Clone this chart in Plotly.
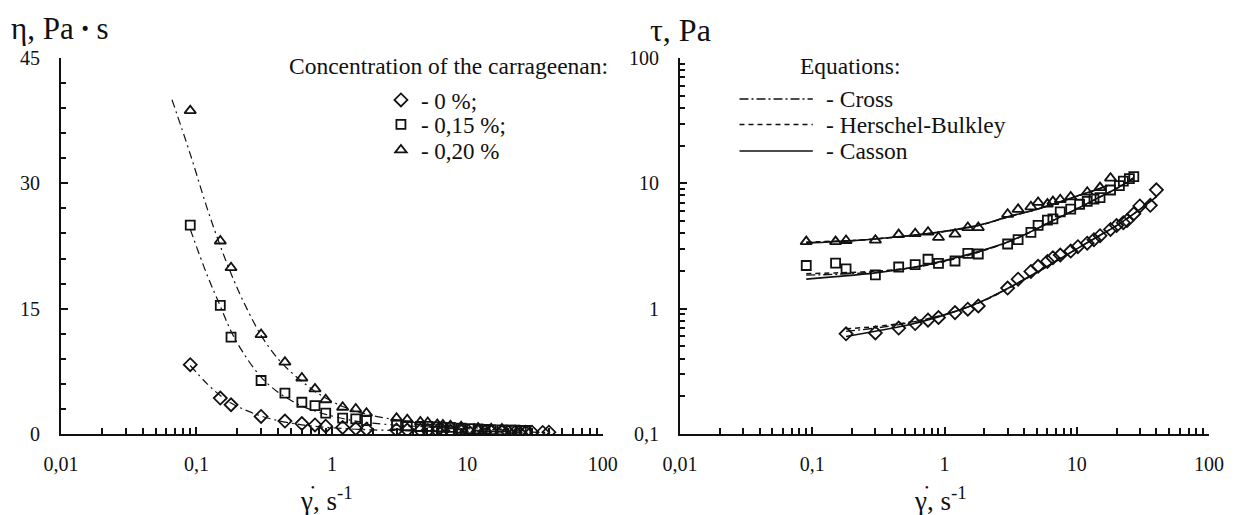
import plotly.graph_objects as go

# ---------------- data ----------------
# Left panel: viscosity eta (Pa*s) vs shear rate (1/s)
rate_0_left = [0.09, 0.15, 0.18, 0.3, 0.45, 0.6, 0.75, 0.9, 1.2, 1.5, 1.8, 3, 3.6, 4.5, 5.1, 6, 6.6,
               7.5, 9, 10.2, 12, 13.5, 15, 18, 20, 22.5, 24, 27, 30, 36, 40]
eta_0 = [8.3, 4.3, 3.5, 2.1, 1.55, 1.25, 1.08, 0.94, 0.78, 0.66, 0.58, 0.49, 0.48, 0.44, 0.43, 0.4, 0.39,
         0.36, 0.32, 0.31, 0.28, 0.26, 0.25, 0.24, 0.23, 0.22, 0.21, 0.21, 0.22, 0.19, 0.22]

rate_15 = [0.09, 0.15, 0.18, 0.3, 0.45, 0.6, 0.75, 0.9, 1.2, 1.5, 1.8, 3, 3.6, 4.5, 5.1, 6, 6.6,
           7.5, 9, 10.5, 12, 13.5, 15, 18, 21, 22.5, 25, 27]
eta_15 = [25.0, 15.4, 11.6, 6.4, 4.9, 3.8, 3.4, 2.5, 1.9, 1.8, 1.6, 1.09, 0.99, 0.9, 0.91, 0.85, 0.79,
          0.79, 0.69, 0.65, 0.6, 0.56, 0.51, 0.49, 0.46, 0.46, 0.44, 0.42]

rate_20 = [0.09, 0.15, 0.18, 0.3, 0.45, 0.6, 0.75, 0.9, 1.2, 1.5, 1.8, 3, 3.6, 4.5, 5.1, 6, 6.6,
           7.5, 9, 12, 15, 18]
eta_20 = [38.7, 23.1, 19.9, 11.9, 8.6, 6.7, 5.4, 4.1, 3.2, 3.0, 2.5, 1.9, 1.72, 1.44, 1.38, 1.14, 1.08,
          0.99, 0.87, 0.71, 0.62, 0.61]

# Cross-model curves in the left panel
cross_rate_20 = [0.066, 0.09, 0.12, 0.15, 0.18, 0.22, 0.3, 0.4, 0.5, 0.6, 0.75, 0.9, 1.2, 1.5, 2, 3, 5, 8, 12, 18]
cross_eta_20 = [40, 33.5, 27, 22.5, 19.2, 16, 11.8, 9.0, 7.4, 6.3, 5.1, 4.3, 3.3, 2.75, 2.2, 1.7, 1.2, 0.9, 0.72, 0.58]
cross_rate_15 = [0.09, 0.12, 0.15, 0.18, 0.22, 0.3, 0.4, 0.5, 0.6, 0.75, 0.9, 1.2, 1.5, 2, 3, 5, 8, 12, 18, 27]
cross_eta_15 = [24.5, 19, 15.3, 12.3, 9.8, 6.8, 5.0, 4.0, 3.35, 2.75, 2.35, 1.85, 1.55, 1.3, 1.05, 0.85, 0.7, 0.58, 0.5, 0.42]
cross_rate_0 = [0.09, 0.12, 0.15, 0.18, 0.22, 0.3, 0.4, 0.5, 0.6, 0.75, 0.9, 1.2, 1.5, 2, 3, 5, 10, 20, 40]
cross_eta_0 = [8.2, 6.0, 4.6, 3.7, 3.0, 2.15, 1.6, 1.3, 1.1, 0.92, 0.8, 0.66, 0.57, 0.49, 0.42, 0.36, 0.3, 0.24, 0.2]

# Right panel: shear stress tau (Pa) vs shear rate (1/s)
rate_0_right = [0.18, 0.3, 0.45, 0.6, 0.75, 0.9, 1.2, 1.5, 1.8, 3, 3.6, 4.5, 5.1, 6, 6.6,
                7.5, 9, 10.2, 12, 13.5, 15, 18, 20, 22.5, 24, 27, 30, 36, 40]
tau_0 = [0.63, 0.64, 0.70, 0.76, 0.81, 0.85, 0.93, 0.99, 1.05, 1.46, 1.72, 1.98, 2.18, 2.38, 2.55,
         2.68, 2.88, 3.12, 3.33, 3.55, 3.82, 4.29, 4.6, 4.85, 5.05, 5.72, 6.6, 6.68, 8.87]
tau_15 = [2.21, 2.31, 2.08, 1.86, 2.15, 2.25, 2.48, 2.3, 2.4, 2.76, 2.73, 3.28, 3.55, 4.06, 4.62, 5.08, 5.2,
          5.93, 6.22, 6.81, 7.18, 7.5, 7.69, 8.85, 9.6, 10.4, 10.9, 11.3]
tau_20 = [3.43, 3.43, 3.5, 3.52, 3.9, 3.97, 4.08, 3.7, 3.93, 4.44, 4.44, 5.66, 6.2, 6.5, 7.05, 6.83, 7.15,
          7.4, 7.8, 8.5, 9.25, 11.0]

# Model fits in the right panel
fit_rate_20 = [0.09, 0.2, 0.3, 0.5, 1, 1.5, 2, 3, 5, 7, 10, 15, 17]
casson_20 = [3.33, 3.48, 3.6, 3.8, 4.15, 4.45, 4.75, 5.4, 6.2, 6.95, 7.9, 9.1, 9.6]
hb_20 = [3.4, 3.5, 3.6, 3.78, 4.12, 4.43, 4.73, 5.38, 6.2, 6.95, 7.9, 9.1, 9.6]
cross_20 = [3.37, 3.49, 3.6, 3.79, 4.13, 4.44, 4.74, 5.39, 6.2, 6.95, 7.9, 9.1, 9.6]

fit_rate_15 = [0.09, 0.15, 0.3, 0.6, 1, 1.5, 2, 3, 4.5, 6.6, 10, 15, 20, 27]
casson_15 = [1.72, 1.8, 1.93, 2.15, 2.42, 2.7, 2.95, 3.4, 4.12, 5.05, 6.25, 7.8, 9.1, 11.0]
hb_15 = [1.9, 1.93, 1.99, 2.14, 2.38, 2.66, 2.92, 3.38, 4.1, 5.05, 6.25, 7.8, 9.1, 11.1]
cross_15 = [1.85, 1.88, 1.96, 2.14, 2.4, 2.68, 2.93, 3.39, 4.11, 5.05, 6.25, 7.8, 9.1, 11.05]

fit_rate_0 = [0.18, 0.3, 0.5, 0.9, 1.5, 2, 3, 5, 7, 10, 15, 20, 30, 40]
casson_0 = [0.6, 0.66, 0.73, 0.86, 1.03, 1.17, 1.45, 1.95, 2.4, 3.0, 3.85, 4.6, 6.2, 7.8]
hb_0 = [0.69, 0.72, 0.77, 0.87, 1.03, 1.16, 1.44, 1.95, 2.4, 3.0, 3.85, 4.6, 6.2, 7.9]
cross_0 = [0.66, 0.7, 0.76, 0.87, 1.03, 1.17, 1.45, 1.95, 2.4, 3.0, 3.85, 4.6, 6.2, 7.85]

x_tickvals = [0.01, 0.1, 1, 10, 100]
x_ticktext = ["0,01", "0,1", "1", "10", "100"]
y2_tickvals = [0.1, 1, 10, 100]
y2_ticktext = ["0,1", "1", "10", "100"]
series_names = ["- 0 %;", "- 0,15 %;", "- 0,20 %"]
eq_names = ["- Cross", "- Herschel-Bulkley", "- Casson"]

# ---------------- styling ----------------
FONT = '"Liberation Serif", "Times New Roman", Times, "DejaVu Serif", serif'
BLACK = "#111111"
OFF = 8  # page body margin in the browser
W, H = 1236 - OFF, 515 - OFF
L, R, T, B = 58 - OFF, 19, 58 - OFF, 81
PW, PH = W - L - R, H - T - B


def px(xp):
    return (xp - OFF - L) / PW


def py(yp):
    return (T + PH - (yp - OFF)) / PH


DASHDOT_L = "8px,4px,2px,4px"
DASHDOT_R = "9px,3px,2px,3px"
HB_DASH = "5px,4px"

fig = go.Figure()

# left fitted curves
for xs, ys in [(cross_rate_20, cross_eta_20), (cross_rate_15, cross_eta_15), (cross_rate_0, cross_eta_0)]:
    fig.add_trace(go.Scatter(x=xs, y=ys, mode="lines", line=dict(color=BLACK, width=1.2, dash=DASHDOT_L, shape="spline"),
                             showlegend=False, hoverinfo="skip", xaxis="x", yaxis="y"))

marker_specs = [("diamond-open", 10), ("square-open", 9), ("triangle-up-open", 10)]
legend_ids = ["legend", "legend2", "legend3"]
left_sets = [(rate_0_left, eta_0), (rate_15, eta_15), (rate_20, eta_20)]
for i, (xs, ys) in enumerate(left_sets):
    sym, sz = marker_specs[i]
    fig.add_trace(go.Scatter(x=xs, y=ys, mode="markers", name=series_names[i], legend=legend_ids[i],
                             marker=dict(symbol=sym, size=sz, color=BLACK, line=dict(color=BLACK, width=1.8)),
                             showlegend=True, xaxis="x", yaxis="y"))

# right fitted curves
for xs, cs, hs, crs in [(fit_rate_20, casson_20, hb_20, cross_20),
                        (fit_rate_15, casson_15, hb_15, cross_15),
                        (fit_rate_0, casson_0, hb_0, cross_0)]:
    fig.add_trace(go.Scatter(x=xs, y=crs, mode="lines", line=dict(color=BLACK, width=1.3, dash=DASHDOT_R, shape="spline"),
                             showlegend=False, hoverinfo="skip", xaxis="x2", yaxis="y2"))
    fig.add_trace(go.Scatter(x=xs, y=hs, mode="lines", line=dict(color=BLACK, width=1.5, dash=HB_DASH, shape="spline"),
                             showlegend=False, hoverinfo="skip", xaxis="x2", yaxis="y2"))
    fig.add_trace(go.Scatter(x=xs, y=cs, mode="lines", line=dict(color=BLACK, width=1.6, shape="spline"),
                             showlegend=False, hoverinfo="skip", xaxis="x2", yaxis="y2"))

right_sets = [(rate_0_right, tau_0), (rate_15, tau_15), (rate_20, tau_20)]
for i, (xs, ys) in enumerate(right_sets):
    sym, sz = marker_specs[i]
    fig.add_trace(go.Scatter(x=xs, y=ys, mode="markers", name=series_names[i],
                             marker=dict(symbol=sym, size=sz, color=BLACK, line=dict(color=BLACK, width=1.8)),
                             showlegend=False, xaxis="x2", yaxis="y2"))

minor_log_x = [m * 10 ** e for e in (-2, -1, 0, 1) for m in range(2, 10)]
minor_log_y = [m * 10 ** e for e in (-1, 0, 1) for m in range(2, 10)]

axis_common = dict(showline=True, linecolor=BLACK, linewidth=2, showgrid=False, zeroline=False,
                   ticks="inside", tickcolor=BLACK, tickwidth=1.5, ticklen=7,
                   tickfont=dict(family=FONT, size=20, color=BLACK))

legend_rows = [100, 124.5, 150]
legend_common = dict(xanchor="left", yanchor="middle", bgcolor="rgba(0,0,0,0)",
                     font=dict(family=FONT, size=23, color=BLACK), itemsizing="trace")

fig.update_layout(
    width=W, height=H,
    margin=dict(l=L, r=R, t=T, b=B),
    paper_bgcolor="white", plot_bgcolor="white",
    font=dict(family=FONT, color=BLACK),
    xaxis=dict(domain=[0, px(605)], type="log", range=[-2, 2], tickvals=x_tickvals, ticktext=x_ticktext,
               ticklabelstandoff=11, anchor="y",
               minor=dict(ticks="inside", tickvals=minor_log_x, ticklen=6, tickwidth=1.5, tickcolor=BLACK),
               **axis_common),
    yaxis=dict(domain=[0, 1], range=[0, 45], tickvals=[0, 15, 30, 45], anchor="x", ticklabelstandoff=15,
               minor=dict(ticks="inside", dtick=3, tick0=0, ticklen=5, tickwidth=1.5, tickcolor=BLACK),
               **axis_common),
    xaxis2=dict(domain=[px(683), 1], type="log", range=[-2, 2], tickvals=x_tickvals, ticktext=x_ticktext,
                ticklabelstandoff=11, anchor="y2",
                minor=dict(ticks="inside", tickvals=minor_log_x, ticklen=6, tickwidth=1.5, tickcolor=BLACK),
                **axis_common),
    yaxis2=dict(domain=[0, 1], type="log", range=[-1, 2], tickvals=y2_tickvals, ticktext=y2_ticktext,
                anchor="x2", ticklabelstandoff=15,
                minor=dict(ticks="inside", tickvals=minor_log_y, ticklen=5, tickwidth=1.5, tickcolor=BLACK),
                **axis_common),
    legend=dict(x=px(381), y=py(legend_rows[0]), **legend_common),
    legend2=dict(x=px(381), y=py(legend_rows[1]), **legend_common),
    legend3=dict(x=px(381), y=py(legend_rows[2]), **legend_common),
    showlegend=True,
)

annotations = [
    dict(text="η, Pa\u2009<b>·</b>\u2009s", x=px(5), y=py(29), xanchor="left", yanchor="middle", size=31),
    dict(text="τ, Pa", x=px(651), y=py(30), xanchor="left", yanchor="middle", size=32),
    dict(text="Concentration of the carrageenan:", x=px(286), y=py(66), xanchor="left", yanchor="middle", size=23.5),
    dict(text="Equations:", x=px(802), y=py(66), xanchor="left", yanchor="middle", size=23.5),
    dict(text="γ, s<sup>-1</sup>", x=px(326), y=py(499), xanchor="center", yanchor="middle", size=27),
    dict(text="γ, s<sup>-1</sup>", x=px(946), y=py(499), xanchor="center", yanchor="middle", size=27),
    dict(text="●", x=px(312), y=py(487), xanchor="center", yanchor="middle", size=6),
    dict(text="●", x=px(932), y=py(487), xanchor="center", yanchor="middle", size=6),
]
eq_y = [99, 124.5, 151]
for name, yy in zip(eq_names, eq_y):
    annotations.append(dict(text=name, x=px(828), y=py(yy), xanchor="left", yanchor="middle", size=23.5))
for a in annotations:
    sz = a.pop("size")
    a.update(xref="paper", yref="paper", showarrow=False, font=dict(family=FONT, color=BLACK, size=sz))
fig.update_layout(annotations=annotations)

shape_dash_vals = [DASHDOT_R, HB_DASH, "solid"]
for dv, yy in zip(shape_dash_vals, eq_y):
    fig.add_shape(type="line", xref="paper", yref="paper", x0=px(743), x1=px(817), y0=py(yy), y1=py(yy),
                  line=dict(color=BLACK, width=1.6, dash=dv))

fig.write_html("out.html")
